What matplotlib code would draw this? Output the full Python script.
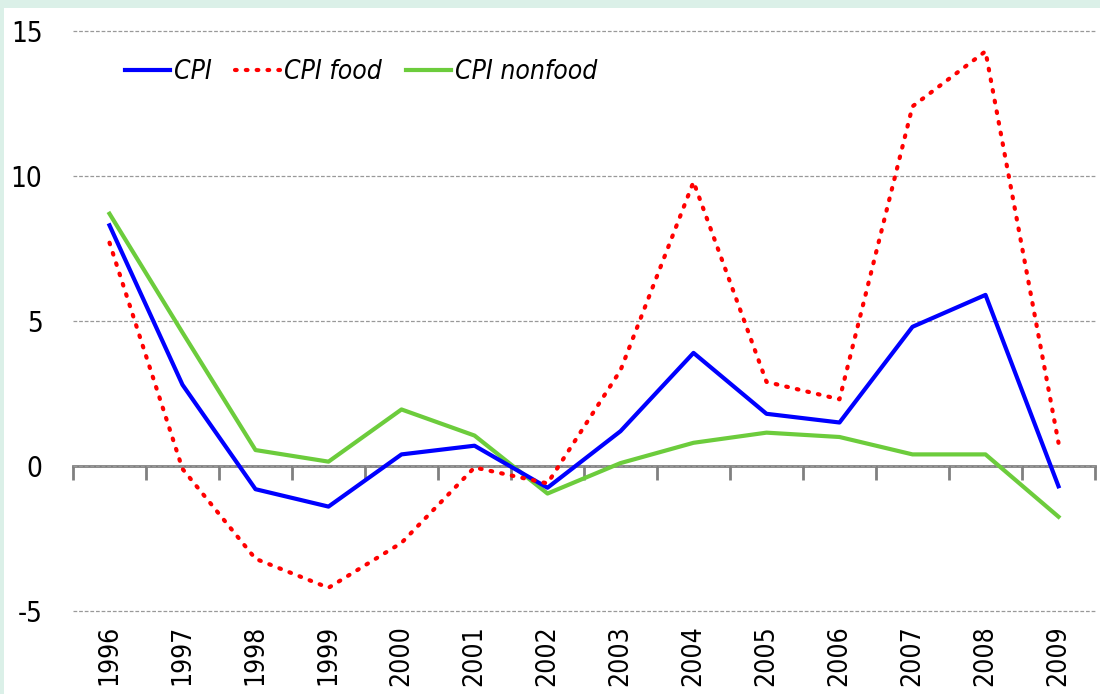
import matplotlib
matplotlib.use('Agg')
import matplotlib.pyplot as plt
from matplotlib.patches import Rectangle

years = ['1996', '1997', '1998', '1999', '2000', '2001', '2002',
         '2003', '2004', '2005', '2006', '2007', '2008', '2009']
cpi = [8.3, 2.8, -0.8, -1.4, 0.4, 0.7, -0.75, 1.2, 3.9, 1.8, 1.5, 4.8, 5.9, -0.7]
cpi_food = [7.7, -0.1, -3.2, -4.2, -2.65, -0.05, -0.6, 3.3, 9.8, 2.9, 2.3, 12.4, 14.3, 0.8]
cpi_nonfood = [8.7, 4.6, 0.55, 0.15, 1.95, 1.05, -0.95, 0.1, 0.8, 1.15, 1.0, 0.4, 0.4, -1.75]

plt.rcParams['font.family'] = ['DejaVu Sans']
plt.rcParams['font.stretch'] = 'condensed'

fig = plt.figure(figsize=(11, 6.94), dpi=100)
fig.patch.set_facecolor('#dbf0e8')
# white panel
fig.add_artist(Rectangle((4/1100, 0), 1, 1 - 8/694, transform=fig.transFigure,
                         facecolor='white', edgecolor='none', zorder=0))

ax = fig.add_axes([73/1100, 1 - 611/694, 1022/1100, 580/694])
ax.set_facecolor('none')

x = list(range(len(years)))
ax.plot(x, cpi, color='#0000ff', lw=3, label='CPI', zorder=3)
ax.plot(x, cpi_food, color='#ff0000', lw=3, linestyle=(0, (0.4, 2.2)),
        dash_capstyle='round', label='CPI food', zorder=3)
ax.plot(x, cpi_nonfood, color='#6ccc3c', lw=3, label='CPI nonfood', zorder=2)

ax.set_xlim(-0.5, len(years) - 0.5)
ax.set_ylim(-5, 15)
ax.set_yticks([-5, 0, 5, 10, 15])
ax.set_yticklabels(['-5', '0', '5', '10', '15'])
ax.set_xticks(x)
ax.set_xticklabels(years, rotation=90)
ax.tick_params(axis='both', length=0, labelsize=20)
ax.tick_params(axis='x', labelsize=19, pad=10)
ax.tick_params(axis='y', pad=22)
for s in ax.spines.values():
    s.set_visible(False)
ax.grid(axis='y', color='#999999', linestyle=(0, (3, 1.5)), lw=0.9)
for gl in ax.get_ygridlines():
    gl.set_clip_on(False)
ax.set_axisbelow(True)

# zero line with tick marks at category boundaries
sec = ax.secondary_xaxis(0.25)
sec.set_xticks([i - 0.5 for i in range(len(years) + 1)])
sec.set_xticklabels([])
sec.tick_params(direction='out', length=10, width=2, color='#808080')
sec.spines['bottom'].set_color('#808080')
sec.spines['bottom'].set_linewidth(2)

leg = ax.legend(loc='center left', bbox_to_anchor=(0.038, 0.929), ncol=3,
                frameon=False, borderpad=0, handlelength=1.7, handletextpad=0.15,
                columnspacing=0.9,
                prop={'size': 19, 'style': 'italic', 'stretch': 'condensed'})

plt.savefig('out.png', dpi=100, facecolor=fig.get_facecolor())
plt.close('all')
